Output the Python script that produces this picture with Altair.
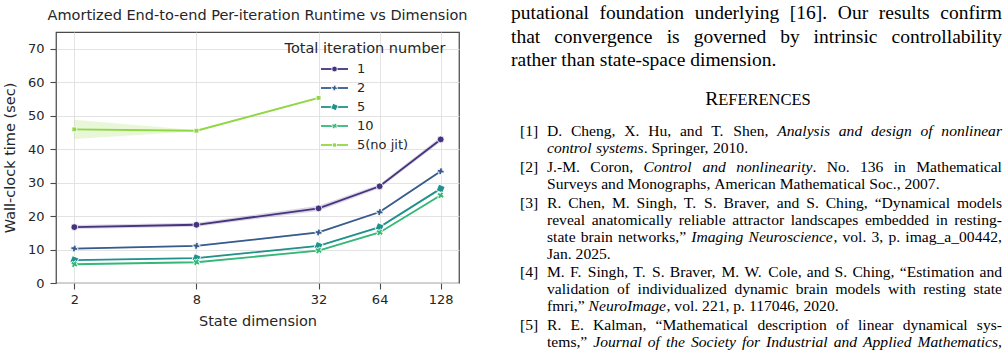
import altair as alt
import pandas as pd

# ---------------------------------------------------------------- chart data
dims = [2, 8, 32, 64, 128]
dims_nojit = [2, 8, 32]
series_names = ["1", "2", "5", "10", "5(no jit)"]
series_colors = ["#46337e", "#365c8d", "#21918c", "#35b779", "#90d743"]
series_shapes = ["circle", "cross", "square", "cross", "diamond"]
series_angles = [0, 45, 0, 0, 0]

runtime_1 = [16.7, 17.4, 22.3, 28.9, 42.9]
runtime_2 = [10.3, 11.1, 15.1, 21.2, 33.4]
runtime_5 = [6.85, 7.45, 11.1, 16.7, 28.2]
runtime_10 = [5.6, 6.2, 9.7, 15.1, 26.2]
runtime_nojit = [45.9, 45.5, 55.3]

# half-width of the confidence band around each mean
ci_1 = [0.6, 0.6, 0.8, 0.6, 0.7]
ci_2 = [0.2, 0.2, 0.25, 0.3, 0.3]
ci_5 = [0.15, 0.15, 0.2, 0.25, 0.3]
ci_10 = [0.15, 0.15, 0.2, 0.25, 0.3]
ci_nojit = [2.9, 0.15, 0.3]

y_ticks = [0, 10, 20, 30, 40, 50, 60, 70]
TITLE = "Amortized End-to-end Per-iteration Runtime vs Dimension"
LEGEND_TITLE = "Total iteration number"

# ---------------------------------------------------------------- page text
BODY_LINES = [
    ("putational foundation underlying [16]. Our results confirm", True),
    ("that convergence is governed by intrinsic controllability", True),
    ("rather than state-space dimension.", False),
]
HEADING = ("R", "EFERENCES")
# each reference: label, list of (runs, justified); a run is (text, italic)
REFERENCES = [
    ("[1]", [
        ([("D. Cheng, X. Hu, and T. Shen, ", False),
          ("Analysis and design of nonlinear", True)], True),
        ([("control systems", True), (". Springer, 2010.", False)], False),
    ]),
    ("[2]", [
        ([("J.-M. Coron, ", False), ("Control and nonlinearity", True),
          (".  No. 136 in Mathematical", False)], True),
        ([("Surveys and Monographs, American Mathematical Soc., 2007.", False)], False),
    ]),
    ("[3]", [
        ([("R. Chen, M. Singh, T. S. Braver, and S. Ching, \u201cDynamical models", False)], True),
        ([("reveal anatomically reliable attractor landscapes embedded in resting-", False)], True),
        ([("state brain networks,\u201d ", False), ("Imaging Neuroscience", True),
          (", vol. 3, p. imag_a_00442,", False)], True),
        ([("Jan. 2025.", False)], False),
    ]),
    ("[4]", [
        ([("M. F. Singh, T. S. Braver, M. W. Cole, and S. Ching, \u201cEstimation and", False)], True),
        ([("validation of individualized dynamic brain models with resting state", False)], True),
        ([("fmri,\u201d ", False), ("NeuroImage", True),
          (", vol. 221, p. 117046, 2020.", False)], False),
    ]),
    ("[5]", [
        ([("R. E. Kalman, \u201cMathematical description of linear dynamical sys-", False)], True),
        ([("tems,\u201d ", False),
          ("Journal of the Society for Industrial and Applied Mathematics,", True)], True),
    ]),
]

# ---------------------------------------------------------------- layout constants
PAGE_W, PAGE_H = 1008, 356
PLOT_X, PLOT_Y, PLOT_W, PLOT_H = 56, 32, 403, 251
SANS = "DejaVu Sans"
SERIF = "Liberation Serif"
INK = "#262626"
PAPER_INK = "#000000"

# Times-compatible advance widths (1/1000 em) for justifying the serif text
def _table(groups):
    t = {}
    for w, chars in groups.items():
        for ch in chars:
            t[ch] = w
    return t

ROMAN = _table({
    200: "|", 250: " ,.", 278: "ijlt:;/", 333: "()[]-'fr!I`", 389: "sJ",
    444: "acez?\u201c\u201d", 500: "0123456789bdghknopquvxy_*", 556: "FPS",
    611: "ELTZ", 667: "BCR", 722: "ADGHKNOQUVXYw", 778: "m&", 889: "M", 944: "W",
})
ITALIC = _table({
    250: " ,.", 278: "ijltf", 333: "I():;-!'", 389: "rsz[]", 444: "cekvxyJ",
    500: "0123456789abdghnopqu_S", 556: "LTYZ\u201c\u201d", 611: "ABEFPRVX",
    667: "CKNw", 722: "DGHOQUm", 833: "MW",
})


def text_width(text, italic, size):
    table = ITALIC if italic else ROMAN
    return sum(table.get(ch, 500) for ch in text) * size / 1000.0


def layout_line(runs, x0, y, size, x1=None):
    """Split runs into words and place them, stretching gaps when x1 is given."""
    groups, new_word = [], True
    for text, italic in runs:
        for k, part in enumerate(text.split(" ")):
            if k > 0:
                new_word = True
            if part == "":
                continue
            if new_word or not groups:
                groups.append([])
                new_word = False
            groups[-1].append((part, italic))
    widths = [[text_width(t, it, size) for t, it in g] for g in groups]
    natural = sum(sum(ws) for ws in widths)
    gap = 0.25 * size
    if x1 is not None and len(groups) > 1:
        gap = (x1 - x0 - natural) / (len(groups) - 1)
    out, x = [], x0
    for g, ws in zip(groups, widths):
        for (t, it), w in zip(g, ws):
            out.append({"px": x - PLOT_X, "py": y - PLOT_Y, "text": t,
                        "italic": it, "fs": size})
            x += w
        x += gap
    return out


text_rows = []
BODY_SIZE, BODY_LEAD, BODY_X0, BODY_X1, BODY_TOP = 19.5, 23.4, 511, 1002, 19.4
for i, (line, justified) in enumerate(BODY_LINES):
    text_rows += layout_line([(line, False)], BODY_X0, BODY_TOP + i * BODY_LEAD,
                             BODY_SIZE, BODY_X1 if justified else None)

big, small = HEADING
w_big = text_width(big, False, 19.5)
w_small = text_width(small, False, 16.5)
hx = 758 - (w_big + w_small) / 2
text_rows += layout_line([(big, False)], hx, 105, 19.5)
text_rows += layout_line([(small, False)], hx + w_big, 105, 16.5)

REF_SIZE, REF_LEAD, REF_GAP, REF_TOP = 15.6, 17.0, 1.8, 136
REF_LABEL_X, REF_X0, REF_X1 = 520, 547, 1002
y = REF_TOP
for label, lines in REFERENCES:
    text_rows += layout_line([(label, False)], REF_LABEL_X, y, REF_SIZE)
    for runs, justified in lines:
        text_rows += layout_line(runs, REF_X0, y, REF_SIZE,
                                 REF_X1 if justified else None)
        y += REF_LEAD
    y += REF_GAP

text_df = pd.DataFrame(text_rows)

# ---------------------------------------------------------------- chart frames
records = []
for name, xs, vals, cis in [
    ("1", dims, runtime_1, ci_1),
    ("2", dims, runtime_2, ci_2),
    ("5", dims, runtime_5, ci_5),
    ("10", dims, runtime_10, ci_10),
    ("5(no jit)", dims_nojit, runtime_nojit, ci_nojit),
]:
    for d, v, c in zip(xs, vals, cis):
        records.append({"dim": d, "series": name, "value": v,
                        "lo": v - c, "hi": v + c})
df = pd.DataFrame(records)

legend_df = pd.DataFrame({"series": series_names})
legend_df["row"] = range(len(series_names))
legend_df["ly"] = 37 + 19 * legend_df["row"]
legend_df["lx0"] = 265
legend_df["lx1"] = 292
legend_df["lxm"] = 278.5
legend_df["ltx"] = 301

color_scale = alt.Scale(domain=series_names, range=series_colors)
shape_scale = alt.Scale(domain=series_names, range=series_shapes)
angle_scale = alt.Scale(domain=series_names, range=series_angles)
x_scale = alt.Scale(type="log", base=2, domain=[2 ** 0.7, 2 ** 7.3],
                    nice=False, zero=False)
y_scale = alt.Scale(domain=[0, 75], nice=False)

x_axis = alt.Axis(values=dims, format="d", title="State dimension",
                  titleY=38, titleBaseline="middle", labelOverlap=False)
y_axis = alt.Axis(values=y_ticks, title="Wall-clock time (sec)",
                  titleX=-46, titleY=PLOT_H / 2, titleBaseline="middle",
                  titleAlign="center", titleAngle=270, labelOverlap=False)

x_enc = alt.X("dim:Q", scale=x_scale, axis=x_axis)
color_enc = alt.Color("series:N", scale=color_scale, legend=None)

base = alt.Chart(df)

band = base.mark_area(opacity=0.2).encode(
    x=x_enc,
    y=alt.Y("lo:Q", scale=y_scale, stack=None, axis=y_axis),
    y2="hi:Q",
    color=color_enc,
    detail="series:N",
)
lines = base.mark_line(strokeWidth=1.8).encode(
    x=x_enc,
    y=alt.Y("value:Q", scale=y_scale, axis=y_axis),
    color=color_enc,
    detail="series:N",
    order="dim:Q",
)
points = base.mark_point(filled=True, size=46, opacity=1, stroke="white",
                         strokeWidth=0.8).encode(
    x=x_enc,
    y=alt.Y("value:Q", scale=y_scale, axis=y_axis),
    fill=alt.Fill("series:N", scale=color_scale, legend=None),
    shape=alt.Shape("series:N", scale=shape_scale, legend=None),
    angle=alt.Angle("series:N", scale=angle_scale, legend=None),
)

# figure title, drawn above the frame
title = alt.Chart(pd.DataFrame({"t": [TITLE]})).mark_text(
    font=SANS, fontSize=14.5, color=INK, align="center", baseline="alphabetic"
).encode(text="t:N", x=alt.value(PLOT_W / 2), y=alt.value(-12))

# hand-built legend: line segment with marker, then label
leg = alt.Chart(legend_df)
leg_title = alt.Chart(pd.DataFrame({"t": [LEGEND_TITLE]})).mark_text(
    font=SANS, fontSize=14.5, color=INK, align="center", baseline="middle"
).encode(text="t:N", x=alt.value(309), y=alt.value(17))
leg_lines = leg.mark_rule(strokeWidth=1.8).encode(
    x=alt.X("lx0:Q", scale=None), x2="lx1:Q", y=alt.Y("ly:Q", scale=None),
    color=color_enc,
)
leg_points = leg.mark_point(filled=True, size=32, opacity=1, stroke="white",
                            strokeWidth=0.8).encode(
    x=alt.X("lxm:Q", scale=None), y=alt.Y("ly:Q", scale=None),
    fill=alt.Fill("series:N", scale=color_scale, legend=None),
    shape=alt.Shape("series:N", scale=shape_scale, legend=None),
    angle=alt.Angle("series:N", scale=angle_scale, legend=None),
)
leg_labels = leg.mark_text(font=SANS, fontSize=13, color=INK, align="left",
                           baseline="middle").encode(
    x=alt.X("ltx:Q", scale=None), y=alt.Y("ly:Q", scale=None), text="series:N",
)

# serif page text beside the figure
roman = alt.Chart(text_df).transform_filter("!datum.italic").mark_text(
    font=SERIF, color=PAPER_INK, align="left", baseline="alphabetic"
).encode(
    x=alt.X("px:Q", scale=None), y=alt.Y("py:Q", scale=None),
    size=alt.Size("fs:Q", scale=None), text="text:N",
)
italic = alt.Chart(text_df).transform_filter("datum.italic").mark_text(
    font=SERIF, fontStyle="italic", color=PAPER_INK, align="left",
    baseline="alphabetic"
).encode(
    x=alt.X("px:Q", scale=None), y=alt.Y("py:Q", scale=None),
    size=alt.Size("fs:Q", scale=None), text="text:N",
)

chart = alt.layer(
    band, lines, points, title, leg_title, leg_lines, leg_points, leg_labels,
    roman, italic,
).properties(
    width=PLOT_W,
    height=PLOT_H,
    autosize=alt.AutoSizeParams(type="none"),
    padding={"left": PLOT_X, "top": PLOT_Y,
             "right": PAGE_W - PLOT_X - PLOT_W,
             "bottom": PAGE_H - PLOT_Y - PLOT_H},
    background="white",
).configure_view(
    stroke="#4a4a4a", strokeWidth=1.25,
).configure_axis(
    domain=False,
    grid=True, gridColor="#e0e0e0", gridWidth=0.9,
    ticks=True, tickSize=6, tickColor="#4a4a4a", tickWidth=1.1,
    labelFont=SANS, labelFontSize=13, labelColor=INK,
    titleFont=SANS, titleFontSize=14.5, titleColor=INK, titleFontWeight="normal",
).configure_axisX(
    labelPadding=4.5,
).configure_axisY(
    labelPadding=6,
)

chart.save("out.html", embed_options={"renderer": "svg", "actions": False})
